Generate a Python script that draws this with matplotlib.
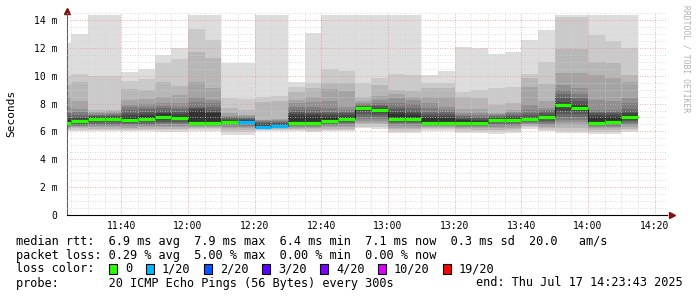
import matplotlib
matplotlib.use("Agg")
import matplotlib.pyplot as plt
from matplotlib.patches import Rectangle

# smokeping: 20 pings per 5 minute step, values in ms (sorted, fastest first)
times = ["11:20", "11:25", "11:30", "11:35", "11:40", "11:45", "11:50", "11:55",
         "12:00", "12:05", "12:10", "12:15", "12:20", "12:25", "12:30", "12:35",
         "12:40", "12:45", "12:50", "12:55", "13:00", "13:05", "13:10", "13:15",
         "13:20", "13:25", "13:30", "13:35", "13:40", "13:45", "13:50", "13:55",
         "14:00", "14:05", "14:10"]

pings = [
    [6.00, 6.10, 6.20, 6.28, 6.35, 6.42, 6.48, 6.52, 6.56, 6.60, 6.80, 6.95, 7.10, 7.25, 7.42, 7.78, 8.45, 9.30, 10.00, 12.37],
    [6.00, 6.12, 6.22, 6.30, 6.36, 6.42, 6.48, 6.54, 6.60, 6.66, 6.82, 6.94, 7.06, 7.18, 7.42, 7.64, 8.21, 9.57, 10.13, 12.97],
    [6.00, 6.10, 6.20, 6.30, 6.40, 6.48, 6.55, 6.65, 6.75, 6.85, 7.00, 7.05, 7.10, 7.15, 7.20, 7.30, 7.40, 7.55, 10.00, 14.36],
    [6.00, 6.10, 6.20, 6.30, 6.40, 6.48, 6.55, 6.65, 6.75, 6.85, 7.00, 7.05, 7.10, 7.15, 7.22, 7.30, 7.45, 7.55, 9.95, 14.36],
    [6.00, 6.10, 6.20, 6.28, 6.36, 6.44, 6.52, 6.60, 6.68, 6.76, 7.00, 7.16, 7.35, 7.54, 7.73, 7.90, 8.26, 9.05, 9.65, 10.29],
    [6.00, 6.10, 6.20, 6.30, 6.38, 6.46, 6.55, 6.65, 6.74, 6.84, 7.11, 7.25, 7.40, 7.59, 7.78, 7.95, 8.31, 8.98, 9.77, 10.46],
    [5.95, 6.08, 6.20, 6.30, 6.40, 6.50, 6.60, 6.70, 6.80, 6.92, 7.23, 7.35, 7.49, 7.66, 7.83, 8.02, 8.45, 9.57, 10.89, 11.47],
    [5.95, 6.08, 6.20, 6.30, 6.40, 6.50, 6.60, 6.70, 6.80, 6.88, 7.11, 7.25, 7.42, 7.59, 7.78, 8.07, 8.62, 9.26, 11.18, 11.97],
    [6.05, 6.15, 6.25, 6.32, 6.38, 6.44, 6.50, 6.55, 6.60, 6.62, 7.50, 7.60, 7.70, 7.78, 8.14, 8.50, 9.57, 11.73, 13.33, 14.36],
    [6.05, 6.15, 6.25, 6.32, 6.38, 6.44, 6.50, 6.55, 6.60, 6.62, 7.30, 7.42, 7.54, 7.78, 8.02, 8.26, 9.10, 11.25, 12.57, 14.36],
    [5.75, 5.95, 6.10, 6.25, 6.35, 6.45, 6.52, 6.58, 6.62, 6.66, 6.78, 6.85, 6.92, 7.00, 7.06, 7.11, 7.30, 7.66, 8.38, 10.89],
    [5.75, 5.95, 6.10, 6.22, 6.32, 6.42, 6.50, 6.56, 6.60, 6.63, 6.72, 6.80, 6.88, 6.95, 7.02, 7.08, 7.16, 7.54, 8.31, 10.89],
    [6.05, 6.12, 6.18, 6.22, 6.25, 6.28, 6.30, 6.32, 6.33, 6.34, 6.42, 6.50, 6.58, 6.65, 6.72, 6.80, 6.85, 8.14, 8.45, 14.36],
    [6.05, 6.12, 6.18, 6.22, 6.26, 6.29, 6.31, 6.33, 6.35, 6.36, 6.45, 6.52, 6.60, 6.68, 6.75, 6.80, 6.88, 8.20, 8.55, 14.36],
    [6.00, 6.10, 6.20, 6.28, 6.35, 6.42, 6.48, 6.54, 6.58, 6.61, 7.11, 7.25, 7.42, 7.54, 7.78, 8.02, 8.26, 8.86, 9.22, 9.53],
    [5.95, 6.05, 6.15, 6.25, 6.33, 6.40, 6.47, 6.53, 6.58, 6.61, 7.11, 7.23, 7.35, 7.54, 7.78, 8.14, 8.50, 9.10, 9.50, 13.05],
    [6.00, 6.10, 6.20, 6.30, 6.38, 6.46, 6.54, 6.60, 6.66, 6.71, 7.06, 7.18, 7.30, 7.42, 7.66, 8.21, 9.05, 9.46, 10.46, 14.36],
    [6.00, 6.10, 6.20, 6.30, 6.40, 6.50, 6.60, 6.68, 6.76, 6.82, 7.06, 7.18, 7.30, 7.42, 7.54, 7.78, 8.90, 9.46, 10.34, 14.36],
    [6.22, 6.35, 6.50, 6.62, 6.75, 6.90, 7.06, 7.25, 7.45, 7.60, 7.70, 7.75, 7.80, 7.86, 7.95, 8.02, 8.21, 8.45, 9.50, 14.36],
    [6.20, 6.35, 6.50, 6.62, 6.75, 6.90, 7.05, 7.20, 7.35, 7.48, 7.60, 7.70, 7.80, 7.90, 8.02, 8.26, 8.55, 9.34, 9.81, 14.36],
    [5.90, 6.02, 6.15, 6.28, 6.40, 6.50, 6.60, 6.70, 6.80, 6.87, 7.25, 7.42, 7.60, 7.78, 8.02, 8.38, 8.69, 8.98, 10.13, 14.36],
    [5.90, 6.02, 6.15, 6.28, 6.40, 6.50, 6.60, 6.70, 6.78, 6.85, 7.20, 7.35, 7.50, 7.70, 7.95, 8.26, 8.50, 8.93, 10.05, 14.36],
    [6.05, 6.15, 6.25, 6.33, 6.40, 6.46, 6.52, 6.56, 6.58, 6.60, 6.95, 7.10, 7.25, 7.42, 7.70, 8.02, 8.45, 9.10, 9.50, 10.05],
    [6.05, 6.15, 6.25, 6.33, 6.40, 6.46, 6.52, 6.56, 6.59, 6.61, 6.95, 7.10, 7.25, 7.42, 7.54, 7.78, 8.50, 9.10, 9.46, 10.37],
    [5.90, 6.05, 6.15, 6.25, 6.35, 6.42, 6.50, 6.55, 6.59, 6.61, 6.80, 6.90, 7.00, 7.10, 7.20, 7.30, 7.59, 8.45, 8.86, 12.04],
    [5.90, 6.02, 6.12, 6.22, 6.30, 6.38, 6.45, 6.50, 6.54, 6.56, 6.75, 6.85, 6.95, 7.05, 7.15, 7.30, 7.59, 8.38, 8.98, 11.97],
    [5.85, 6.00, 6.12, 6.24, 6.35, 6.45, 6.55, 6.65, 6.72, 6.78, 6.90, 6.98, 7.05, 7.12, 7.20, 7.25, 7.30, 7.90, 9.10, 11.56],
    [5.90, 6.02, 6.14, 6.25, 6.36, 6.46, 6.55, 6.64, 6.72, 6.78, 6.92, 7.00, 7.10, 7.20, 7.30, 7.42, 7.54, 8.07, 9.22, 11.73],
    [6.20, 6.30, 6.40, 6.48, 6.55, 6.62, 6.68, 6.74, 6.79, 6.83, 6.95, 7.05, 7.15, 7.30, 7.54, 7.90, 9.22, 9.81, 10.13, 12.57],
    [6.00, 6.12, 6.24, 6.35, 6.46, 6.56, 6.66, 6.76, 6.86, 6.95, 7.10, 7.20, 7.30, 7.45, 7.55, 7.66, 8.21, 9.41, 11.01, 13.28],
    [5.87, 6.05, 6.25, 6.45, 6.65, 6.85, 7.05, 7.25, 7.50, 7.75, 7.98, 8.10, 8.40, 8.70, 9.00, 9.30, 10.20, 11.90, 14.20, 14.36],
    [5.87, 6.05, 6.25, 6.45, 6.65, 6.85, 7.05, 7.25, 7.45, 7.60, 7.80, 7.95, 8.15, 8.40, 8.70, 9.10, 10.20, 11.90, 14.20, 14.36],
    [5.85, 5.98, 6.10, 6.22, 6.32, 6.42, 6.50, 6.55, 6.58, 6.60, 7.00, 7.15, 7.30, 7.42, 7.54, 8.26, 10.05, 11.00, 12.93, 14.36],
    [5.85, 5.98, 6.10, 6.22, 6.32, 6.42, 6.50, 6.55, 6.60, 6.62, 7.00, 7.15, 7.30, 7.42, 7.54, 8.21, 9.81, 10.89, 12.52, 14.36],
    [5.95, 6.08, 6.20, 6.32, 6.44, 6.55, 6.65, 6.75, 6.85, 6.93, 7.15, 7.30, 7.45, 7.60, 8.02, 8.38, 9.57, 10.05, 11.97, 14.36],
]

median = [6.63, 6.72, 6.92, 6.92, 6.85, 6.92, 7.06, 6.97, 6.63, 6.63, 6.70, 6.65,
          6.34, 6.37, 6.63, 6.63, 6.75, 6.87, 7.66, 7.54, 6.92, 6.90, 6.61, 6.63,
          6.63, 6.58, 6.82, 6.82, 6.87, 7.01, 7.88, 7.68, 6.63, 6.65, 7.01]

lost = [0, 0, 0, 0, 0, 0, 0, 0, 0, 0, 0, 1, 1, 1, 0, 0, 0, 0, 0, 0, 0, 0, 0, 0,
        0, 0, 0, 0, 0, 0, 0, 0, 0, 0, 0]

loss_levels = [0, 1, 2, 3, 4, 10, 19]
loss_labels = ["0", "1/20", "2/20", "3/20", "4/20", "10/20", "19/20"]
loss_colors = ["#26ff00", "#00b8ff", "#0059ff", "#5e00ff", "#7e00ff", "#dd00ff", "#ff0000"]

xticks = ["11:40", "12:00", "12:20", "12:40", "13:00", "13:20", "13:40", "14:00", "14:20"]
start, end = "11:23:43", "14:23:43"


def mins(s):
    p = [int(v) for v in s.split(":")]
    return p[0] * 60 + p[1] + (p[2] / 60 if len(p) > 2 else 0)


mono = "DejaVu Sans Mono"
W, H = 697, 297
fig = plt.figure(figsize=(W / 100, H / 100), dpi=100)
fig.patch.set_facecolor("white")
ax = fig.add_axes([67 / W, (H - 215) / H, 600 / W, 202 / H])

x = [mins(t) for t in times]

# smoke bands, outer (light) first
for k in range(10):
    g = int(190 / 10 * (10 - (k + 1))) + 50
    col = "#%02x%02x%02x" % (g, g, g)
    lo = [p[k] for p in pings]
    hi = [p[19 - k] - p[k] for p in pings]
    ax.bar(x, hi, bottom=lo, width=5, align="edge", color=col, linewidth=0, zorder=1)

# median line
xs = x + [x[-1] + 5]
ax.plot(xs, median + [median[-1]], drawstyle="steps-post", color="#202020", lw=0.7, zorder=3)
for xi, m, l in zip(x, median, lost):
    ci = max(i for i, lv in enumerate(loss_levels) if l >= lv)
    ax.hlines(m, xi, xi + 5, color=loss_colors[ci], lw=2.3, zorder=4)

ax.set_xlim(mins(start), mins(end))
ax.set_ylim(0, 14.5)

ax.set_xticks([mins(t) for t in xticks])
ax.set_xticklabels(xticks)
ax.set_xticks([mins(start) + 1.2833 + 5 * i for i in range(36)], minor=True)
ax.set_yticks(range(0, 15, 2))
ax.set_yticklabels(["0"] + ["%d m" % v for v in range(2, 15, 2)])
ax.set_yticks([0.5 * i for i in range(30)], minor=True)
ax.tick_params(which="both", length=0)
ax.tick_params(axis="y", pad=7, labelsize=7)
ax.tick_params(axis="x", pad=4, labelsize=7)
for lab in ax.get_xticklabels() + ax.get_yticklabels():
    lab.set_family(mono)

ax.set_axisbelow(False)
ax.grid(which="minor", color="#cfcfcf", linestyle=(0, (1, 2)), lw=0.6)
ax.grid(which="major", color="#f09090", linestyle=(0, (1, 2)), lw=0.6)

for s in ["top", "right"]:
    ax.spines[s].set_visible(False)
ax.spines["left"].set_color("#606060")
ax.spines["bottom"].set_color("black")
ax.spines["left"].set_linewidth(0.8)
ax.spines["bottom"].set_linewidth(0.8)
ax.plot([0], [1.01], marker="^", color="#801010", ms=4, transform=ax.transAxes, clip_on=False)
ax.plot([1.008], [0], marker=">", color="#801010", ms=4, transform=ax.transAxes, clip_on=False)

fig.text(11 / W, 1 - 113 / H, "Seconds", rotation=90, family=mono, fontsize=8,
         ha="center", va="center")
fig.text(686 / W, 1 - 5 / H, "RRDTOOL / TOBI OETIKER", rotation=270, family=mono,
         fontsize=5.8, color="#b0b0b0", ha="center", va="top")

fs = 8.55
rows = [
    "median rtt:  6.9 ms avg  7.9 ms max  6.4 ms min  7.1 ms now  0.3 ms sd  20.0   am/s",
    "packet loss: 0.29 % avg  5.00 % max  0.00 % min  0.00 % now",
    "loss color:",
    "probe:       20 ICMP Echo Pings (56 Bytes) every 300s",
]
for i, r in enumerate(rows):
    fig.text(16 / W, 1 - (241 + 14 * i) / H, r, family=mono, fontsize=fs, va="center")
fig.text(683 / W, 1 - 283 / H, "end: Thu Jul 17 14:23:43 2025", family=mono,
         fontsize=fs, va="center", ha="right")

cx = 109
for lab, col in zip(loss_labels, loss_colors):
    fig.patches.append(Rectangle((cx / W, 1 - 274 / H), 8 / W, 10 / H, transform=fig.transFigure,
                                 facecolor=col, edgecolor="black", lw=0.8))
    fig.text((cx + 16) / W, 1 - 269 / H, lab, family=mono, fontsize=fs, va="center")
    cx += 16 + 7 * len(lab) + 14

fig.savefig("out.png", dpi=100, facecolor="white")
